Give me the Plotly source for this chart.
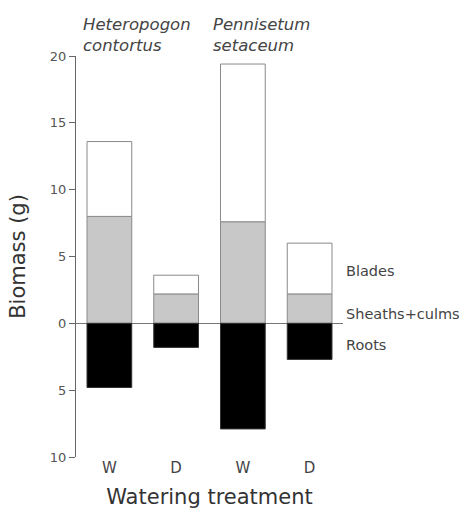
import plotly.graph_objects as go

treatment_labels = ["W", "D", "W", "D"]
sheaths_culms = [8.0, 2.2, 7.6, 2.2]
blades = [5.6, 1.4, 11.8, 3.8]
roots = [-4.8, -1.8, -7.9, -2.7]
species = ["Heteropogon<br>contortus", "Pennisetum<br>setaceum"]
ytick_vals = [-10, -5, 0, 5, 10, 15, 20]
ytick_text = ["10", "5", "0", "5", "10", "15", "20"]

x = [0, 1, 2, 3]
fig = go.Figure()
fig.add_trace(go.Bar(x=x, y=sheaths_culms, name="Sheaths+culms", width=0.67,
                     marker=dict(color="#c8c8c8", line=dict(color="#8a8a8a", width=1))))
fig.add_trace(go.Bar(x=x, y=blades, name="Blades", width=0.67,
                     marker=dict(color="white", line=dict(color="#8a8a8a", width=1))))
fig.add_trace(go.Bar(x=x, y=roots, name="Roots", width=0.67,
                     marker=dict(color="black", line=dict(color="#333", width=1))))

font = "DejaVu Sans, sans-serif"
fig.update_layout(
    barmode="relative",
    width=462, height=513,
    margin=dict(l=76, r=119, t=56, b=56),
    plot_bgcolor="white", paper_bgcolor="white",
    showlegend=False,
    font=dict(family=font, color="#333"),
    xaxis=dict(range=[-0.5, 3.5], tickvals=x, ticktext=treatment_labels,
               showline=False, showgrid=False, zeroline=False, ticks="",
               automargin=False,
               tickfont=dict(size=15, color="#444"),
               title=dict(text="Watering treatment", font=dict(size=21, color="#333"), standoff=13)),
    yaxis=dict(range=[-10, 20], tickvals=ytick_vals, ticktext=ytick_text,
               showline=True, linecolor="#666", linewidth=1, showgrid=False,
               zeroline=True, zerolinecolor="#777", zerolinewidth=1,
               ticks="outside", ticklen=6, tickcolor="#666",
               automargin=False,
               tickfont=dict(size=13, color="#555"),
               title=dict(text="Biomass (g)", font=dict(size=21, color="#333"), standoff=18)),
)

# species annotations
for xi, sp in zip([-0.425, 1.522], species):
    fig.add_annotation(x=xi, y=1.0, xref="x", yref="paper", text="<i>" + sp + "</i>",
                       showarrow=False, xanchor="left", yanchor="bottom", align="left",
                       font=dict(size=16.5, color="#444"), yshift=-1)

# segment labels at right
seg_labels = [("Blades", 3.9), ("Sheaths+culms", 0.7), ("Roots", -1.6)]
for txt, yv in seg_labels:
    fig.add_annotation(x=1.0, y=yv, xref="paper", yref="y", text=txt, showarrow=False,
                       xanchor="left", yanchor="middle", xshift=1,
                       font=dict(size=14.5, color="#444"))

fig.write_html("out.html")
